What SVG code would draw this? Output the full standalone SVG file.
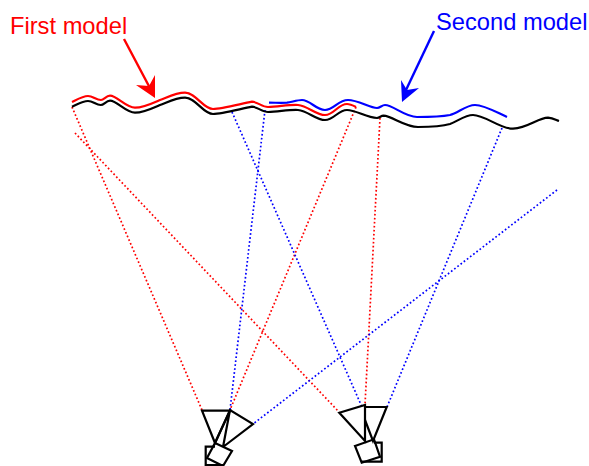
<svg xmlns="http://www.w3.org/2000/svg" width="589" height="466" viewBox="0 0 589 466">
<style>
.surf{fill:none;stroke-width:2.2;stroke-linejoin:round}
.ray{fill:none;stroke-width:1.7;stroke-dasharray:1.7 2.3}
.cam{fill:none;stroke:#000;stroke-width:2.2;stroke-linejoin:miter}
.lbl{font-family:"Liberation Sans",Arial,sans-serif;font-size:23.7px}
.r{stroke:#f00}.b{stroke:#00f}
</style>
<rect width="589" height="466" fill="#fff"/>
<g id="connectors">
<path class="ray r" d="M72 107L202 410"/>
<path class="ray r" d="M75 133L339 412"/>
<path class="ray r" d="M356 107L230 410"/>
<path class="ray r" d="M380 118L365 405"/>
<path class="ray b" d="M232 112L362 407"/>
<path class="ray b" d="M265 110L230 410"/>
<path class="ray b" d="M502 128L387 407"/>
<path class="ray b" d="M557 190L253 424"/>
<path d="M124 39L151 90" fill="none" stroke="#f00" stroke-width="2.4"/>
<path d="M155 98L136 85L149 86L155 75Z" fill="#f00"/>
<path d="M434 31L406 90" fill="none" stroke="#00f" stroke-width="2.4"/>
<path d="M402 102L401 80L407 90L419 88Z" fill="#00f"/>
</g>
<g id="black-surface">
<path class="surf" stroke="#000" d="M72 106.7C78 104 83 101 88 101C93 101 96 105 100.7 105C104 105 106 100.7 110 100.7C117 100.7 126 112.7 135 112.7C143 112.7 152 108.5 160 105C168 102 176 97.7 185 97.7C196 97.7 203 114 213 114C222 114 240 109 252 106.7C258 107 262 112 268 112C278 112 288 109.5 298 110C308 111 316 120 325 120C334 120 338 110 347 110C356 110 367 118 377 118C380 117.5 381 115.7 383.5 115.7C392 116 405 127 418 127C430 127 440 127 450 124C458 121 465 115 473 115C485 115 500 129 513 128.7C528 128 538 118 548 117.7C553 118 556 120 559 121"/>
</g>
<g id="first-model-surface">
<path class="surf r" d="M72 102C78 99 83 96 88 96C93 96 96 100 101 100C104 100 106 95.7 110 95.7C117 95.7 126 107.7 135 107.7C143 107.7 152 103.5 160 100C168 97 176 92.7 185 92.7C196 92.7 203 109 213 109C222 109 240 104 252 101.7C258 102 262 107 268 107C278 107 288 104.5 298 105C308 106 316 115 325 115C334 115 338 104 347 104C350 104 353 105.5 356 107"/>
</g>
<g id="second-model-surface">
<path class="surf b" d="M269 102.7C275 102.7 282 103 287 102.7C292 102 297 100 302 100C310 100 316 110 325 110C334 110 338 100 348 100C358 100 370 108 377 108C380 108 382 105 385 105C393 105 405 117 417 117C428 117 440 117 450 115C458 113 466 105 475 105C484 105 496 112 507 117"/>
</g>
<g id="camera-left">
<path class="cam" d="M215 443L202 410.7H230Z"/>
<path class="cam" d="M223 447L253 424L230 410L215 443M230 410L223 447"/>
<path class="cam" d="M215 446.7H205.7V465H223"/>
<path class="cam" d="M215 443L232 451L223 466L207 458Z"/>
</g>
<g id="camera-right">
<path class="cam" d="M365 441V405L339.3 412.7Z"/>
<path class="cam" d="M365 407H386.7L373 441L365 420"/>
<path class="cam" d="M374 442.7H381.7V461.7H362"/>
<path class="cam" d="M355 446L374 439.3L380 456.7L361.7 462.7Z"/>
</g>
<g id="label-first"><text class="lbl" x="10" y="34" fill="#f00">First model</text></g>
<g id="label-second"><text class="lbl" x="436" y="30" fill="#00f">Second model</text></g>
</svg>
